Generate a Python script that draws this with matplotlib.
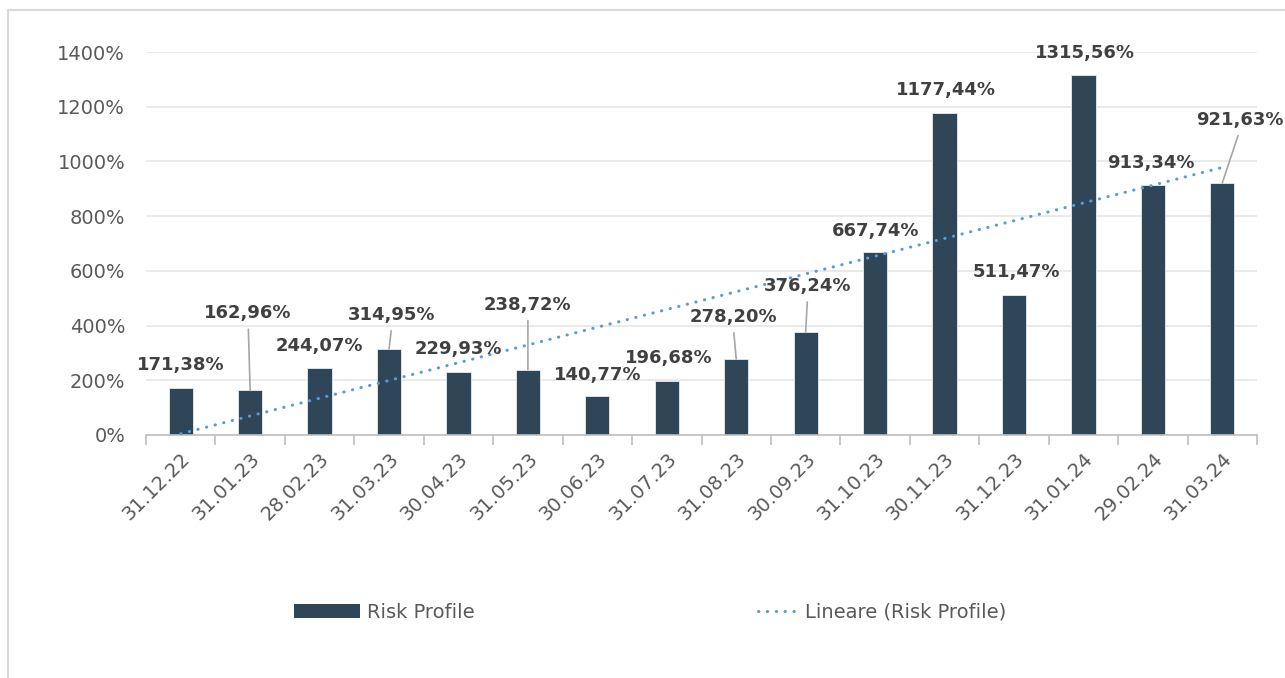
import numpy as np
import matplotlib.pyplot as plt
from matplotlib.patches import Rectangle, Patch
from matplotlib.lines import Line2D

dates = ['31.12.22', '31.01.23', '28.02.23', '31.03.23', '30.04.23', '31.05.23',
         '30.06.23', '31.07.23', '31.08.23', '30.09.23', '31.10.23', '30.11.23',
         '31.12.23', '31.01.24', '29.02.24', '31.03.24']
risk = [171.38, 162.96, 244.07, 314.95, 229.93, 238.72, 140.77, 196.68,
        278.20, 376.24, 667.74, 1177.44, 511.47, 1315.56, 913.34, 921.63]
yticks = [0, 200, 400, 600, 800, 1000, 1200, 1400]

# label offsets in pixels (dx, dy) and which ones get a leader line
lab_off = [(0, 23), (-2, 77), (0, 22), (3, 34), (0, 23), (0, 65), (0, 21), (2, 23),
           (-3, 42), (2, 46), (1, 21), (1, 23), (2, 23), (2, 22), (-2, 22), (18, 63)]
leader = [1, 3, 5, 8, 9, 15]

bar_col = '#2E4657'
txt_col = '#595959'

fig = plt.figure(figsize=(12.85, 6.78), dpi=100)
ax = fig.add_axes([146/1285, 1-435/678, (1257-146)/1285, (435-52)/678])

x = np.arange(len(risk))
ax.bar(x, risk, width=0.35, color=bar_col, edgecolor='#E8ECEF', linewidth=0.6, zorder=2)

# linear trend (Excel "Lineare")
k, b = np.polyfit(x + 1, risk, 1)
ax.plot(x, k*(x+1)+b, color='#5B9BD5', lw=2.2, linestyle=(0, (0.1, 2.8)),
        dash_capstyle='round', zorder=3)

for i, v in enumerate(risk):
    s = f'{v:.2f}%'.replace('.', ',')
    dx, dy = lab_off[i]
    if i in leader:
        ax.annotate(s, (i, v), xytext=(dx, dy), textcoords='offset pixels',
                    ha='center', va='center', fontsize=13, fontweight='bold', color='#404040',
                    arrowprops=dict(arrowstyle='-', color='#A6A6A6', lw=1.2,
                                    relpos=(0.5, 0), shrinkA=3, shrinkB=0), zorder=4)
    else:
        ax.annotate(s, (i, v), xytext=(dx, dy), textcoords='offset pixels',
                    ha='center', va='center', fontsize=13, fontweight='bold', color='#404040', zorder=4)

ax.set_xlim(-0.5, len(risk) - 0.5)
ax.set_ylim(0, 1400)
ax.set_yticks(yticks)
ax.set_yticklabels([f'{t}%' for t in yticks], fontsize=14, color=txt_col)
ax.tick_params(axis='y', length=0, pad=15)
ax.yaxis.grid(True, color='#E6E6E6', lw=1.2, zorder=0)
ax.set_axisbelow(True)

ax.set_xticks(x)
ax.set_xticklabels(dates, rotation=45, ha='right', rotation_mode='anchor',
                   fontsize=14, color=txt_col)
ax.set_xticks(np.arange(len(risk) + 1) - 0.5, minor=True)
ax.tick_params(axis='x', which='major', length=0, pad=10)
ax.tick_params(axis='x', which='minor', length=7, color='#BFBFBF', width=1.2)

for sp in ['left', 'right', 'top']:
    ax.spines[sp].set_visible(False)
ax.spines['bottom'].set_color('#BFBFBF')
ax.spines['bottom'].set_linewidth(1.2)

# legends
h1 = Patch(facecolor=bar_col)
fig.legend([h1], ['Risk Profile'], loc='center left', bbox_to_anchor=(276/1285, 1-612/678),
           frameon=False, fontsize=14, handlelength=3.4, handleheight=0.7,
           handletextpad=0.4, labelcolor=txt_col)
h2 = Line2D([], [], color='#5B9BD5', lw=2.2, linestyle=(0, (0.1, 2.8)), dash_capstyle='round')
fig.legend([h2], ['Lineare (Risk Profile)'], loc='center left',
           bbox_to_anchor=(741/1285, 1-612/678), frameon=False, fontsize=14,
           handlelength=2.0, handletextpad=0.4, labelcolor=txt_col)

# chart area border
fig.patches.append(Rectangle((8/1285, -0.1), 1.5, 1.1 - 10/678,
                             transform=fig.transFigure, fill=False,
                             edgecolor='#D9D9D9', lw=1.5))

fig.savefig('out.png', dpi=100)
